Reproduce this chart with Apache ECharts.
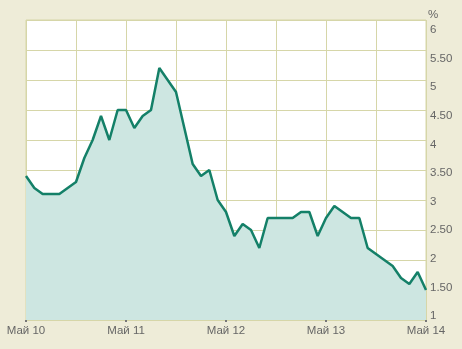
<!DOCTYPE html>
<html><head><meta charset="utf-8">
<script src="https://cdn.jsdelivr.net/npm/echarts@6/dist/echarts.min.js"></script>
<style>html,body{margin:0;padding:0;background:#EEECD8;}#c{width:462px;height:349px;}</style>
</head><body><div id="c"></div>
<script>
const monthNames = ['Май','Июн','Июл','Авг','Сен','Окт','Ноя','Дек','Янв','Фев','Мар','Апр'];
const categories = [];
for (let i = 0; i < 49; i++) {
  const yr = 10 + Math.floor((i + 4) / 12);
  categories.push(monthNames[i % 12] + ' ' + yr);
}
const values = [3.40,3.20,3.10,3.10,3.10,3.20,3.30,3.70,4.00,4.40,4.00,4.50,
  4.50,4.20,4.40,4.50,5.20,5.00,4.80,4.20,3.60,3.40,3.50,3.00,
  2.80,2.40,2.60,2.50,2.20,2.70,2.70,2.70,2.70,2.80,2.80,2.40,
  2.70,2.90,2.80,2.70,2.70,2.20,2.10,2.00,1.90,1.70,1.60,1.80,1.50];
const yMin = 1, yMax = 6, yStep = 0.5;
const unitLabel = '%';

const chart = echarts.init(document.getElementById('c'));
const gridColor = '#D6D6A8';
const font = 'Liberation Sans, Arial, sans-serif';
const fmt = v => (Math.abs(v % 1) < 1e-9 ? String(v) : v.toFixed(2));
chart.setOption({
  backgroundColor: '#EEECD8',
  animation: false,
  grid: [
    {left: 26, right: 36, top: 20, bottom: 29, show: true, backgroundColor: '#FFFFFF', borderColor: gridColor, borderWidth: 1},
    {left: 26, right: 36, top: 30, bottom: 33, show: false}
  ],
  xAxis: [{
    type: 'category', data: categories, boundaryGap: false, gridIndex: 0,
    axisLine: {show: false},
    axisTick: {show: true, interval: 11, length: 2, lineStyle: {color: '#777', width: 2}},
    axisLabel: {interval: 11, color: '#666', fontFamily: font, fontSize: 11.5, margin: 5},
    splitLine: {show: true, interval: 5, lineStyle: {color: gridColor, width: 1}}
  }, {
    type: 'category', data: categories, gridIndex: 1, show: false
  }],
  yAxis: [{
    type: 'value', position: 'right', min: yMin, max: yMax, interval: yStep, gridIndex: 0,
    name: unitLabel, nameLocation: 'end', nameGap: -1,
    nameTextStyle: {color: '#666', fontFamily: font, fontSize: 11.5, align: 'left', padding: [0,0,0,2]},
    axisLine: {show: false}, axisTick: {show: false},
    axisLabel: {show: false},
    splitLine: {show: true, lineStyle: {color: gridColor, width: 1}}
  }, {
    type: 'value', position: 'right', min: yMin, max: yMax, interval: yStep, gridIndex: 1,
    axisLine: {show: false}, axisTick: {show: false}, splitLine: {show: false},
    axisLabel: {color: '#666', fontFamily: font, fontSize: 11.5, margin: 4, formatter: fmt}
  }],
  series: [{
    type: 'line', data: values, symbol: 'none', xAxisIndex: 0, yAxisIndex: 0,
    lineStyle: {color: '#148068', width: 2.5},
    areaStyle: {color: '#CDE6E1', opacity: 1}
  }]
});
</script></body></html>
